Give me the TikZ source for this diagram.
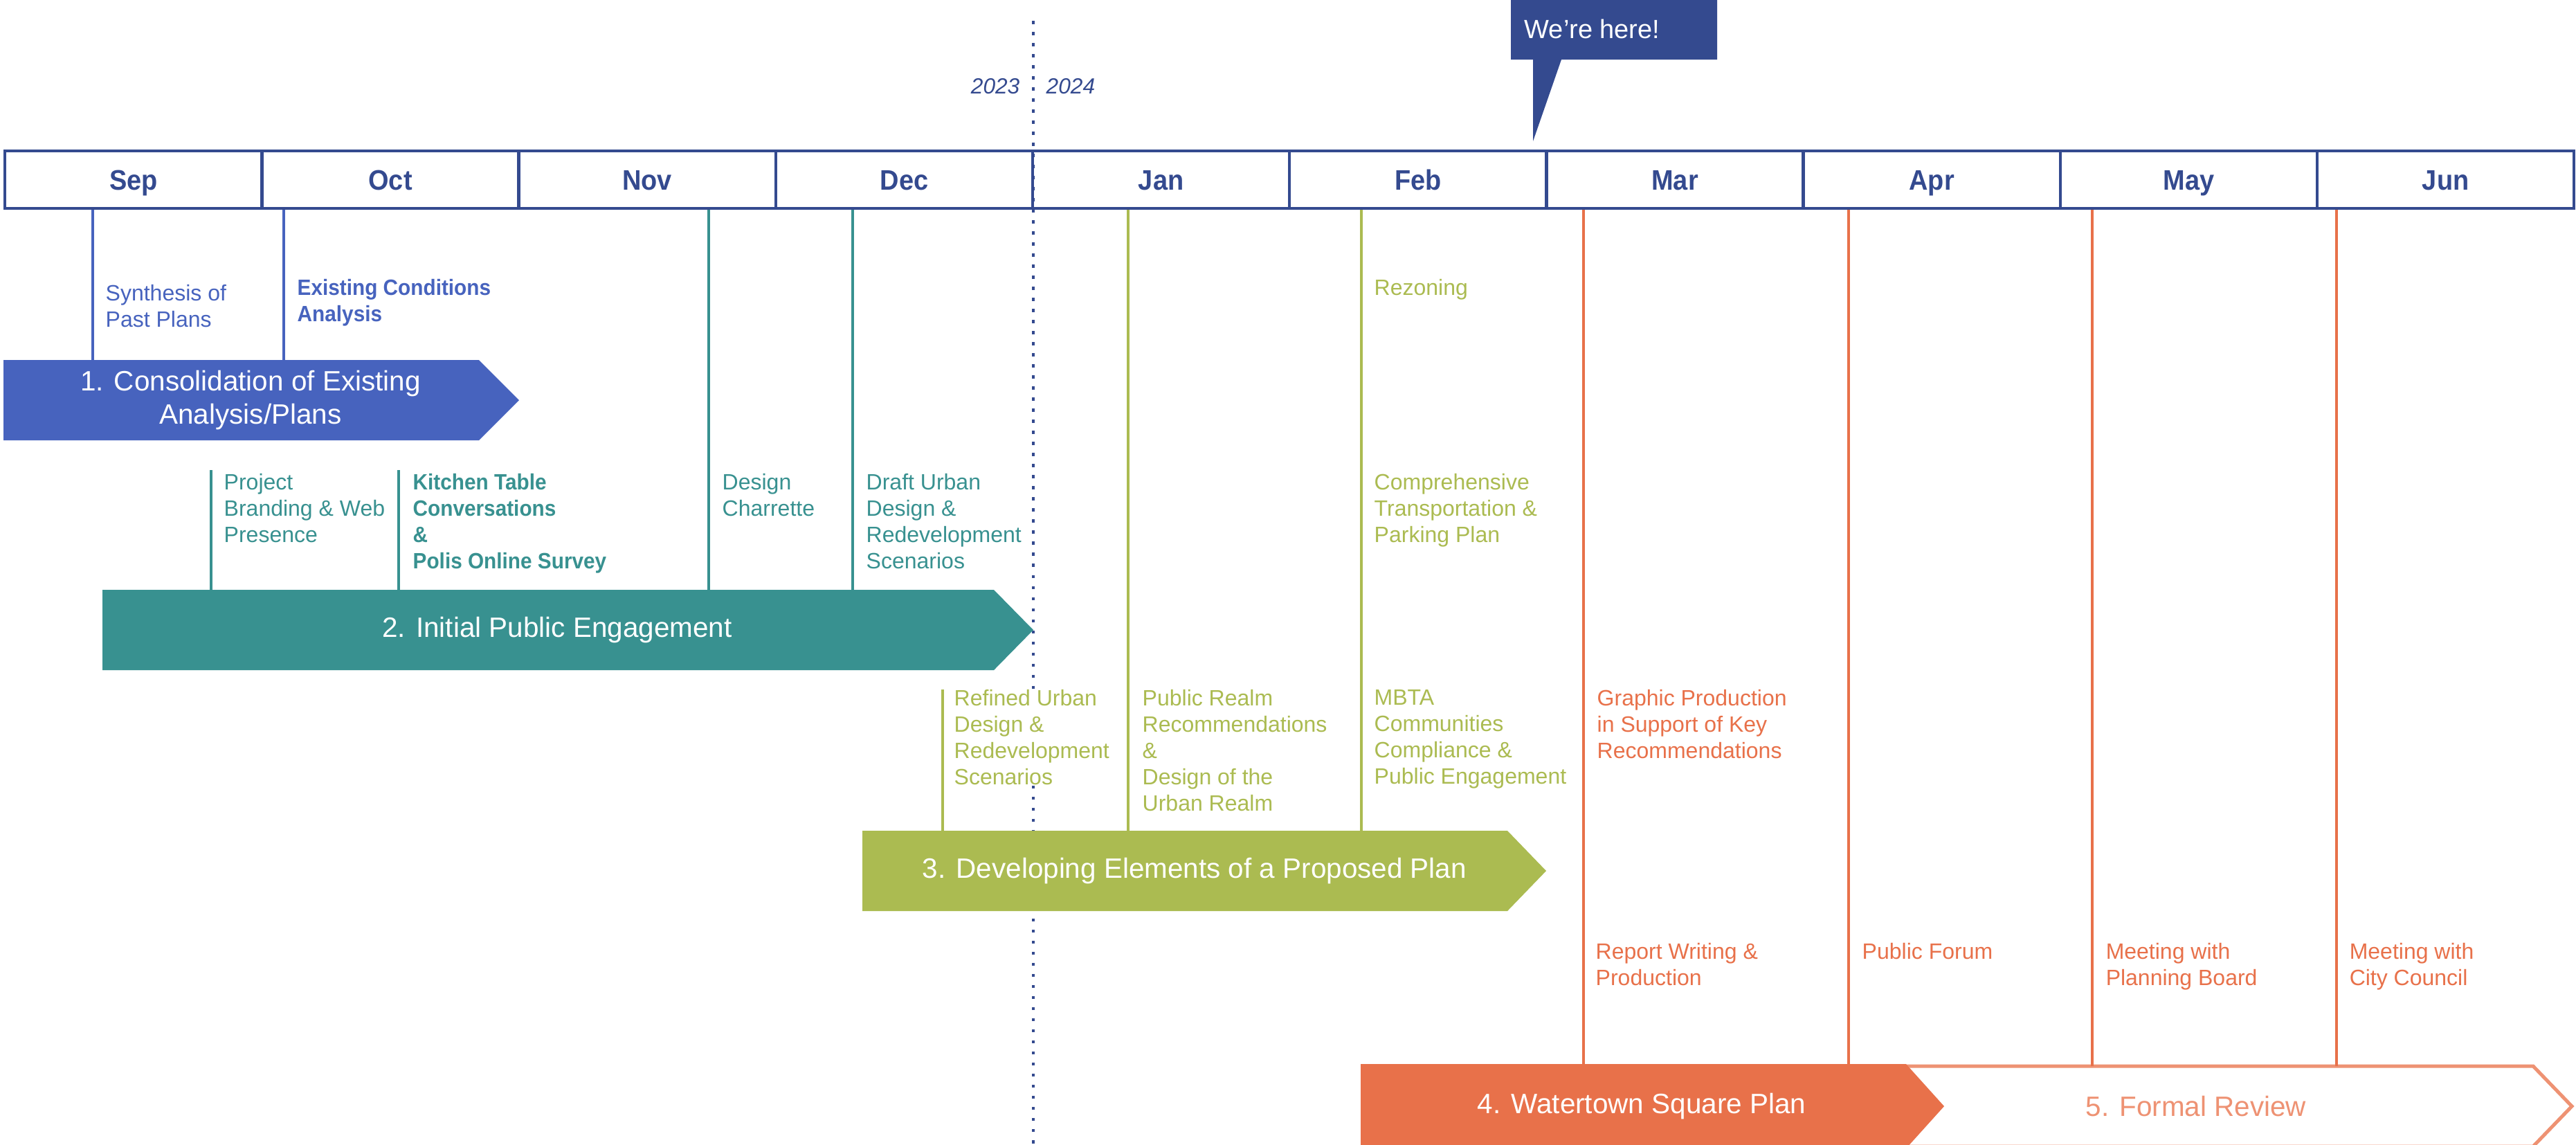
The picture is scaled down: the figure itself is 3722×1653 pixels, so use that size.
\documentclass[tikz,border=0pt]{standalone}
\usepackage{fontspec}
\setmainfont{Liberation Sans}[BoldFeatures={FakeStretch=0.93}]

\definecolor{navy}{HTML}{344A8F}
\definecolor{phaseblue}{HTML}{4763BE}
\definecolor{phaseteal}{HTML}{389190}
\definecolor{phasegreen}{HTML}{ABBB51}
\definecolor{phaseorange}{HTML}{E8714A}
\definecolor{reviewcol}{HTML}{EE9273}

% style, left, top, end of body, tip, bottom
\newcommand{\phasebar}[6]{\path[#1] (#2,#3) -- (#4,#3) -- (#5,{(#3+#6)/2}) -- (#4,#6) -- (#2,#6) -- cycle;}

\begin{document}
\begin{tikzpicture}[x=0.01cm,y=-0.01cm,
  month/.style={draw=navy,line width=1.2pt,minimum width=3.712cm,minimum height=0.83cm,anchor=north west,inner sep=0pt,text height=0.29cm,text depth=0pt,text=navy,font=\fontsize{11.6}{13}\selectfont\bfseries},
  tick/.style={line width=0.9pt},
  lbl/.style={anchor=north west,inner sep=0pt,fill=white,align=left,font=\fontsize{9.1}{10.8}\selectfont},
  boldlbl/.style={lbl,font=\fontsize{9.1}{10.8}\selectfont\bfseries},
  phasetext/.style={align=center,inner sep=0pt,text=white,font=\fontsize{11.5}{13.6}\selectfont},
  year/.style={inner sep=0pt,text=navy,font=\fontsize{9}{10}\selectfont\itshape}]

\useasboundingbox (0,0) rectangle (3722,1653);

\draw[navy,line width=0.033cm,dash pattern=on 0.045cm off 0.115cm] (1493,30) -- (1493,1653);

\foreach \m [count=\i from 0] in {Sep,Oct,Nov,Dec,Jan,Feb,Mar,Apr,May,Jun}
  \node[month] (\m) at (5+371.2*\i,216) {\m};

\node[year,anchor=base east] (y2023) at (1474,135) {2023};
\node[year,anchor=base west] (y2024) at (1511,135) {2024};

\fill[navy] (2183,-5) -- (2481,-5) -- (2481,86) -- (2256,86) -- (2215,204) -- (2215,86) -- (2183,86) -- cycle;
\node[anchor=north west,inner sep=0pt,text=white,font=\fontsize{10.8}{12}\selectfont] (here) at (2202,27) {We’re here!};

\coordinate (ph1) at (5,520);
\coordinate (ph2) at (148,852);
\coordinate (ph3) at (1246,1200);
\coordinate (ph4) at (1966,1537);
\coordinate (ph5) at (2661,1540);
\coordinate (row2) at (0,679);
\coordinate (row3) at (0,996);

\phasebar{fill=phaseblue}{5}{520}{692}{750}{636}
\phasebar{fill=phaseteal}{148}{852}{1436}{1493}{968}
\phasebar{fill=phasegreen}{1246}{1200}{2178}{2234}{1316}
\phasebar{draw=reviewcol,fill=white,line width=0.05cm}{2661}{1540}{3660}{3716}{1656}
\phasebar{fill=phaseorange}{1966}{1537}{2754}{2809}{1659}

\foreach \x/\from/\to/\c in {134/Sep.south/ph1/phaseblue, 410/Oct.south/ph1/phaseblue,
    305/row2/ph2/phaseteal, 576/row2/ph2/phaseteal, 1024/Nov.south/ph2/phaseteal, 1232/Dec.south/ph2/phaseteal,
    1362/row3/ph3/phasegreen, 1630/Jan.south/ph3/phasegreen, 1967/Feb.south/ph3/phasegreen,
    2288/Mar.south/ph4/phaseorange, 2671/Apr.south/ph5/phaseorange, 3023/May.south/ph5/phaseorange, 3376/Jun.south/ph5/phaseorange}
  \draw[tick,\c] (\x,0 |- \from) -- (\x,0 |- \to);

\node[lbl,text=phaseblue] (synthesis) at (152,411) {Synthesis of\\Past Plans};
\node[boldlbl,text=phaseblue] (existing) at (429,403) {Existing Conditions\\Analysis};

\node[lbl,text=phaseteal] (branding) at (323,684) {Project\\Branding \& Web\\Presence};
\node[boldlbl,text=phaseteal] (kitchen) at (596,684) {Kitchen Table\\Conversations\\\&\\Polis Online Survey};
\node[lbl,text=phaseteal] (charrette) at (1043,684) {Design\\Charrette};
\node[lbl,text=phaseteal] (draft) at (1251,684) {Draft Urban\\Design \&\\Redevelopment\\Scenarios};

\node[lbl,text=phasegreen] (rezoning) at (1985,403) {Rezoning};
\node[lbl,text=phasegreen] (transport) at (1985,684) {Comprehensive\\Transportation \&\\Parking Plan};
\node[lbl,text=phasegreen] (refined) at (1378,996) {Refined Urban\\Design \&\\Redevelopment\\Scenarios};
\node[lbl,text=phasegreen] (realm) at (1650,996) {Public Realm\\Recommendations\\\&\\Design of the\\Urban Realm};
\node[lbl,text=phasegreen] (mbta) at (1985,996) {MBTA\\Communities\\Compliance \&\\Public Engagement};

\node[lbl,text=phaseorange] (graphic) at (2307,996) {Graphic Production\\in Support of Key\\Recommendations};
\node[lbl,text=phaseorange] (report) at (2305,1362) {Report Writing \&\\Production};
\node[lbl,text=phaseorange] (forum) at (2690,1362) {Public Forum};
\node[lbl,text=phaseorange] (board) at (3042,1362) {Meeting with\\Planning Board};
\node[lbl,text=phaseorange] (council) at (3394,1362) {Meeting with\\City Council};

\node[phasetext] (phase1) at (362,578) {1. Consolidation of Existing\\Analysis/Plans};
\node[phasetext] (phase2) at (805,910) {2. Initial Public Engagement};
\node[phasetext] (phase3) at (1726,1258) {3. Developing Elements of a Proposed Plan};
\node[phasetext] (phase4) at (2372,1598) {4. Watertown Square Plan};
\node[phasetext,text=reviewcol] (phase5) at (3173,1598) {5. Formal Review};
\end{tikzpicture}
\end{document}
